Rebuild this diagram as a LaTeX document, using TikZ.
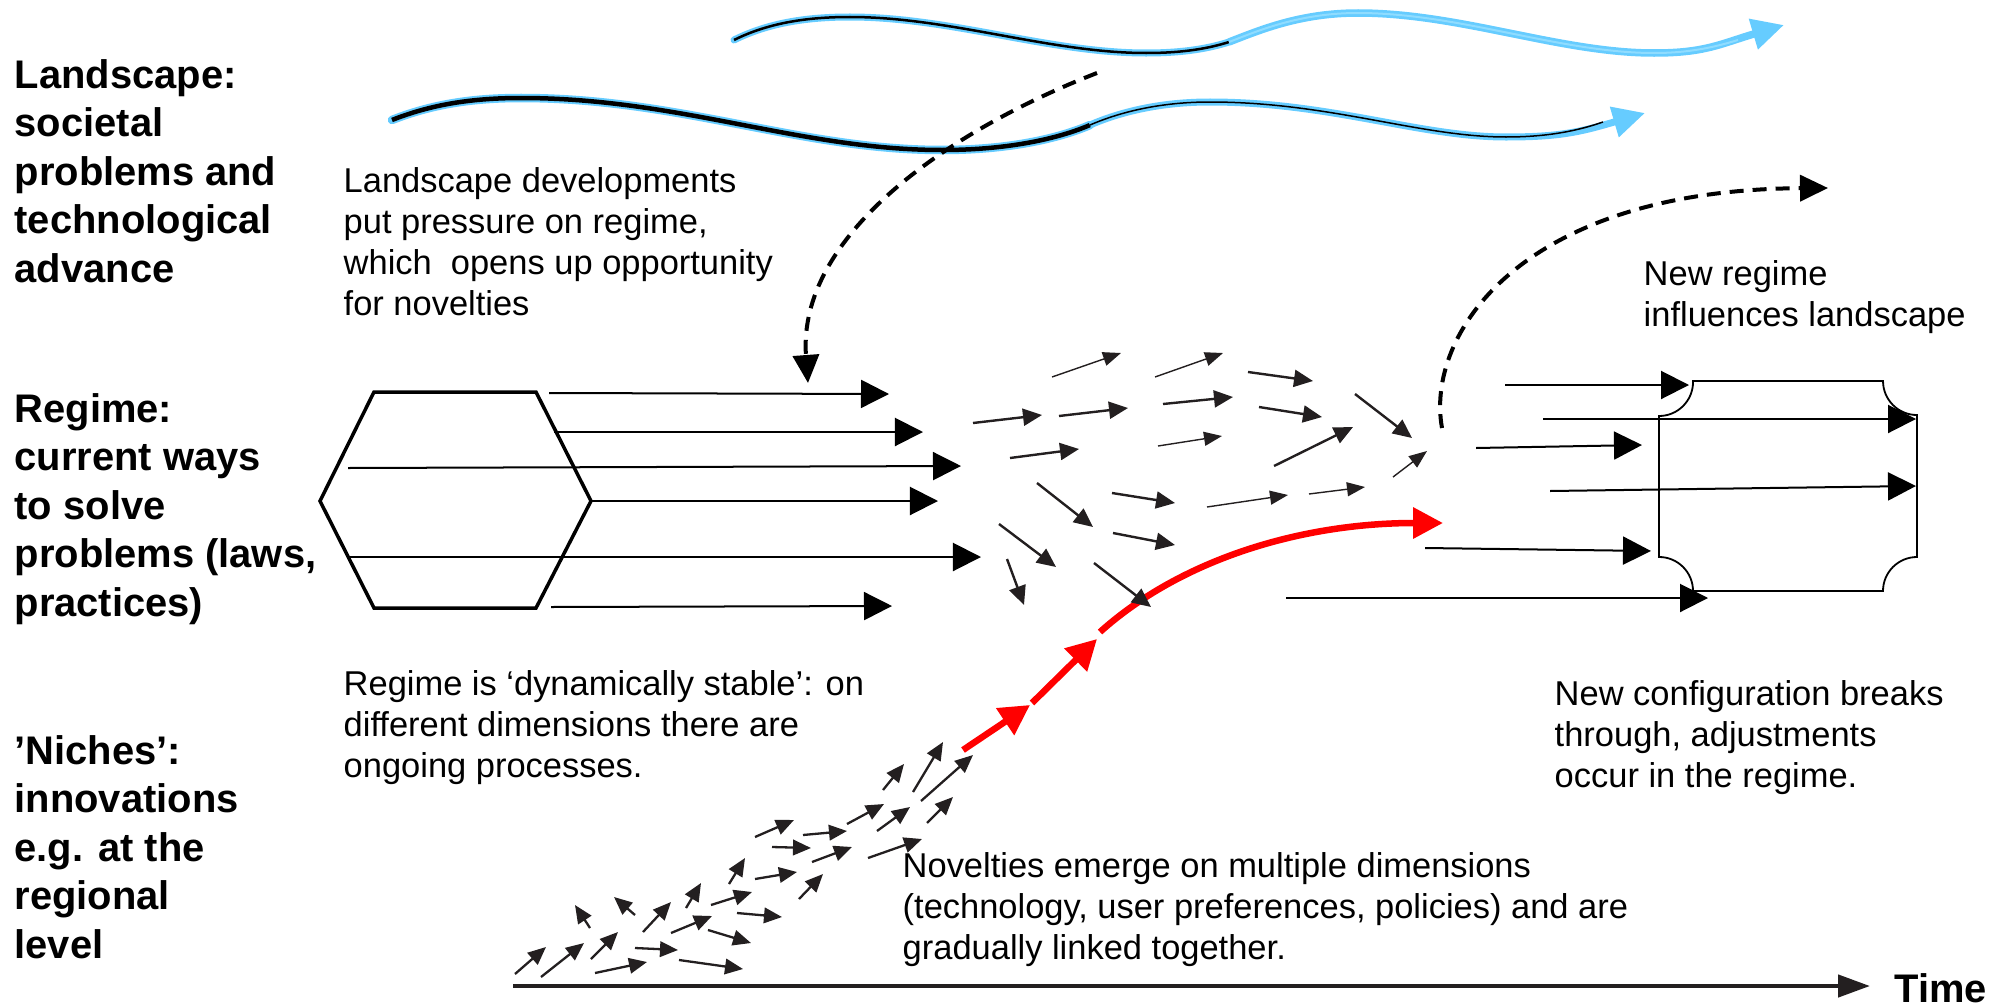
\documentclass[tikz,border=0pt]{standalone}
\usepackage{fontspec}
\setmainfont{Liberation Sans}
\usetikzlibrary{arrows.meta}
\definecolor{wave}{HTML}{66CCFF}
\definecolor{wavecore}{HTML}{8FDCFF}
\definecolor{ink}{HTML}{231F20}
\begin{document}
\begin{tikzpicture}[x=0.01cm,y=-0.01cm,
  boldlbl/.style={font=\fontsize{11.35}{13.8}\selectfont\bfseries, align=left, anchor=west, inner sep=0},
  timelbl/.style={font=\fontsize{11.35}{13.8}\selectfont\bfseries, anchor=west, inner sep=0},
  plainlbl/.style={font=\fontsize{9.8}{11.66}\selectfont, align=left, anchor=west, inner sep=0},
  hexarr/.style={line width=0.02cm, -{Triangle[length=0.28cm,width=0.28cm]}},
  midarr/.style={line width=0.024cm, ink, -{Triangle[length=0.19cm,width=0.17cm]}},
  thinarr/.style={line width=0.014cm, ink, -{Triangle[length=0.18cm,width=0.14cm]}},
  nicharr/.style={line width=0.023cm, ink, -{Triangle[length=0.18cm,width=0.155cm]}},
  dasharr/.style={line width=0.04cm, dash pattern=on 0.14cm off 0.09cm, -{Triangle[length=0.28cm,width=0.26cm]}},
  redarr/.style={red, line width=0.065cm, -{Triangle[length=0.3cm,width=0.31cm]}},
  halo/.style={wave, line width=0.07cm, line cap=round},
]
\useasboundingbox (0,0) rectangle (2006,1006);

% ---------- texts ----------
\node[boldlbl] (land) at (14,171) {Landscape:\\societal\\problems and\\technological\\advance};
\node[boldlbl] (reg) at (14,509) {Regime:\\current ways\\to solve\\problems (laws,\\practices)};
\node[boldlbl] (nich) at (14,847) {’Niches’:\\innovations\\e.g. at the\\regional\\level};
\node[timelbl] (time) at (1894,988) {Time};

\node[plainlbl] (ld) at (343,242) {Landscape developments\\put pressure on regime,\\which \ opens up opportunity\\for novelties};
\node[plainlbl] (nr) at (1643,297) {New regime\\influences landscape};
\node[plainlbl] (rd) at (343,728) {Regime is ‘dynamically stable’: on\\different dimensions there are\\ongoing processes.};
\node[plainlbl] (nc) at (1554,738) {New configuration breaks\\through, adjustments\\occur in the regime.};
\node[plainlbl] (ne) at (902,910) {Novelties emerge on multiple dimensions\\(technology, user preferences, policies) and are\\gradually linked together.};

% ---------- landscape waves ----------
% upper wave
\draw[halo] (734,40) .. controls (770,22) and (810,17) .. (850,17)
  .. controls (950,17) and (1050,53) .. (1146,53)
  .. controls (1185,53) and (1210,48) .. (1229,42);
\draw[line width=0.025cm] (734,40) .. controls (770,22) and (810,17) .. (850,17)
  .. controls (950,17) and (1050,53) .. (1146,53)
  .. controls (1185,53) and (1210,48) .. (1229,42);
\draw[wave, line width=0.075cm, -{Triangle[length=0.32cm,width=0.3cm]}] (1229,42)
  .. controls (1260,30) and (1300,13) .. (1358,13)
  .. controls (1460,13) and (1560,53) .. (1654,53)
  .. controls (1705,53) and (1720,44) .. (1784,25);
\draw[wavecore, line width=0.02cm] (1229,42)
  .. controls (1260,30) and (1300,13) .. (1358,13)
  .. controls (1460,13) and (1560,53) .. (1654,53)
  .. controls (1690,53) and (1715,47) .. (1738,40);
% lower wave
\draw[halo, line width=0.085cm] (392,120) .. controls (430,105) and (470,98) .. (521,98)
  .. controls (680,98) and (800,150) .. (942,150)
  .. controls (1010,150) and (1060,138) .. (1090,125);
\draw[line width=0.045cm] (392,120) .. controls (430,105) and (470,98) .. (521,98)
  .. controls (680,98) and (800,150) .. (942,150)
  .. controls (1010,150) and (1060,138) .. (1090,125);
\draw[wave, line width=0.07cm, -{Triangle[length=0.32cm,width=0.3cm]}] (1090,125)
  .. controls (1120,112) and (1160,102) .. (1210,102)
  .. controls (1330,102) and (1420,137) .. (1506,137)
  .. controls (1560,137) and (1580,132) .. (1645,113);
\draw[line width=0.015cm] (1090,125)
  .. controls (1120,112) and (1160,102) .. (1210,102)
  .. controls (1330,102) and (1420,137) .. (1506,137)
  .. controls (1550,137) and (1580,130) .. (1603,122);

% ---------- dashed influence arrows ----------
\draw[dasharr] (1097,73) .. controls (950,130) and (797,235) .. (808,383);
\draw[dasharr] (1442,428) .. controls (1425,335) and (1520,190) .. (1828,188);

% ---------- regime hexagon ----------
\draw[line width=0.035cm, line join=miter] (374,392) -- (536,392) -- (591,501) -- (536,608) -- (374,608) -- (320,501) -- cycle;
\foreach \xa/\ya/\xb/\yb in {549/393/889/394, 554/432/923/432, 348/468/961/466, 591/501/938/501, 350/557/981/557, 551/607/892/606}
  \draw[hexarr] (\xa,\ya) -- (\xb,\yb);

% ---------- red breakthrough path ----------
\draw[redarr] (963,750) -- (1030,705);
\draw[redarr] (1032,703) -- (1097,639);
\draw[redarr, -{Triangle[length=0.3cm,width=0.3cm]}] (1100,632) .. controls (1180,560) and (1300,523) .. (1443,523);

% ---------- middle (regime dynamics) arrows ----------
\foreach \xa/\ya/\xb/\yb in {1248/372/1313/381, 973/423/1042/415, 1059/416/1128/408, 1163/404/1233/397, 1259/407/1322/417, 1355/394/1412/438, 1010/458/1079/449, 1274/466/1353/427, 1037/483/1093/527, 1112/493/1175/503, 999/524/1056/567, 1113/533/1175/545, 1007/559/1024/605, 1094/563/1151/607}
  \draw[midarr] (\xa,\ya) -- (\xb,\yb);
\foreach \xa/\ya/\xb/\yb in {1052/377/1121/353, 1155/377/1223/353, 1158/446/1222/436, 1393/477/1427/451, 1207/507/1288/495, 1309/494/1365/487}
  \draw[thinarr] (\xa,\ya) -- (\xb,\yb);

% ---------- new regime box ----------
\draw[line width=0.018cm] (1693,381) -- (1883,381) arc[start angle=180,end angle=270,radius=0.34cm]
  -- (1917,557) arc[start angle=90,end angle=180,radius=0.34cm]
  -- (1693,591) arc[start angle=0,end angle=90,radius=0.34cm]
  -- (1659,416) arc[start angle=270,end angle=360,radius=0.34cm] -- cycle;
\foreach \xa/\ya/\xb/\yb in {1505/385/1689/385, 1543/419/1916/419, 1476/448/1642/445, 1550/491/1916/486, 1425/548/1651/551, 1286/598/1708/598}
  \draw[hexarr] (\xa,\ya) -- (\xb,\yb);

% ---------- niche arrows ----------
\foreach \xa/\ya/\xb/\yb in {515/974/546/947, 541/977/584/943, 591/959/618/932, 595/973/647/962, 635/948/678/950, 679/960/743/969, 590/928/575/905, 635/915/614/897, 643/932/671/902, 671/933/712/916, 708/930/751/943, 686/908/701/883, 711/905/752/892, 737/913/782/917, 729/884/745/858, 755/879/797/872, 799/899/823/874, 755/837/794/820, 772/847/811/848, 803/835/847/831, 812/862/852/847, 847/824/884/804, 877/831/910/807, 868/858/922/839, 883/790/904/764, 913/792/943/742, 921/801/973/755, 927/823/953/797}
  \draw[nicharr] (\xa,\ya) -- (\xb,\yb);

% ---------- time axis ----------
\coordinate (t0) at (513,986);
\coordinate (t1) at (1870,986);
\draw[ink, line width=0.045cm, -{Triangle[length=0.32cm,width=0.22cm]}] (t0) -- (t1);
\end{tikzpicture}
\end{document}
